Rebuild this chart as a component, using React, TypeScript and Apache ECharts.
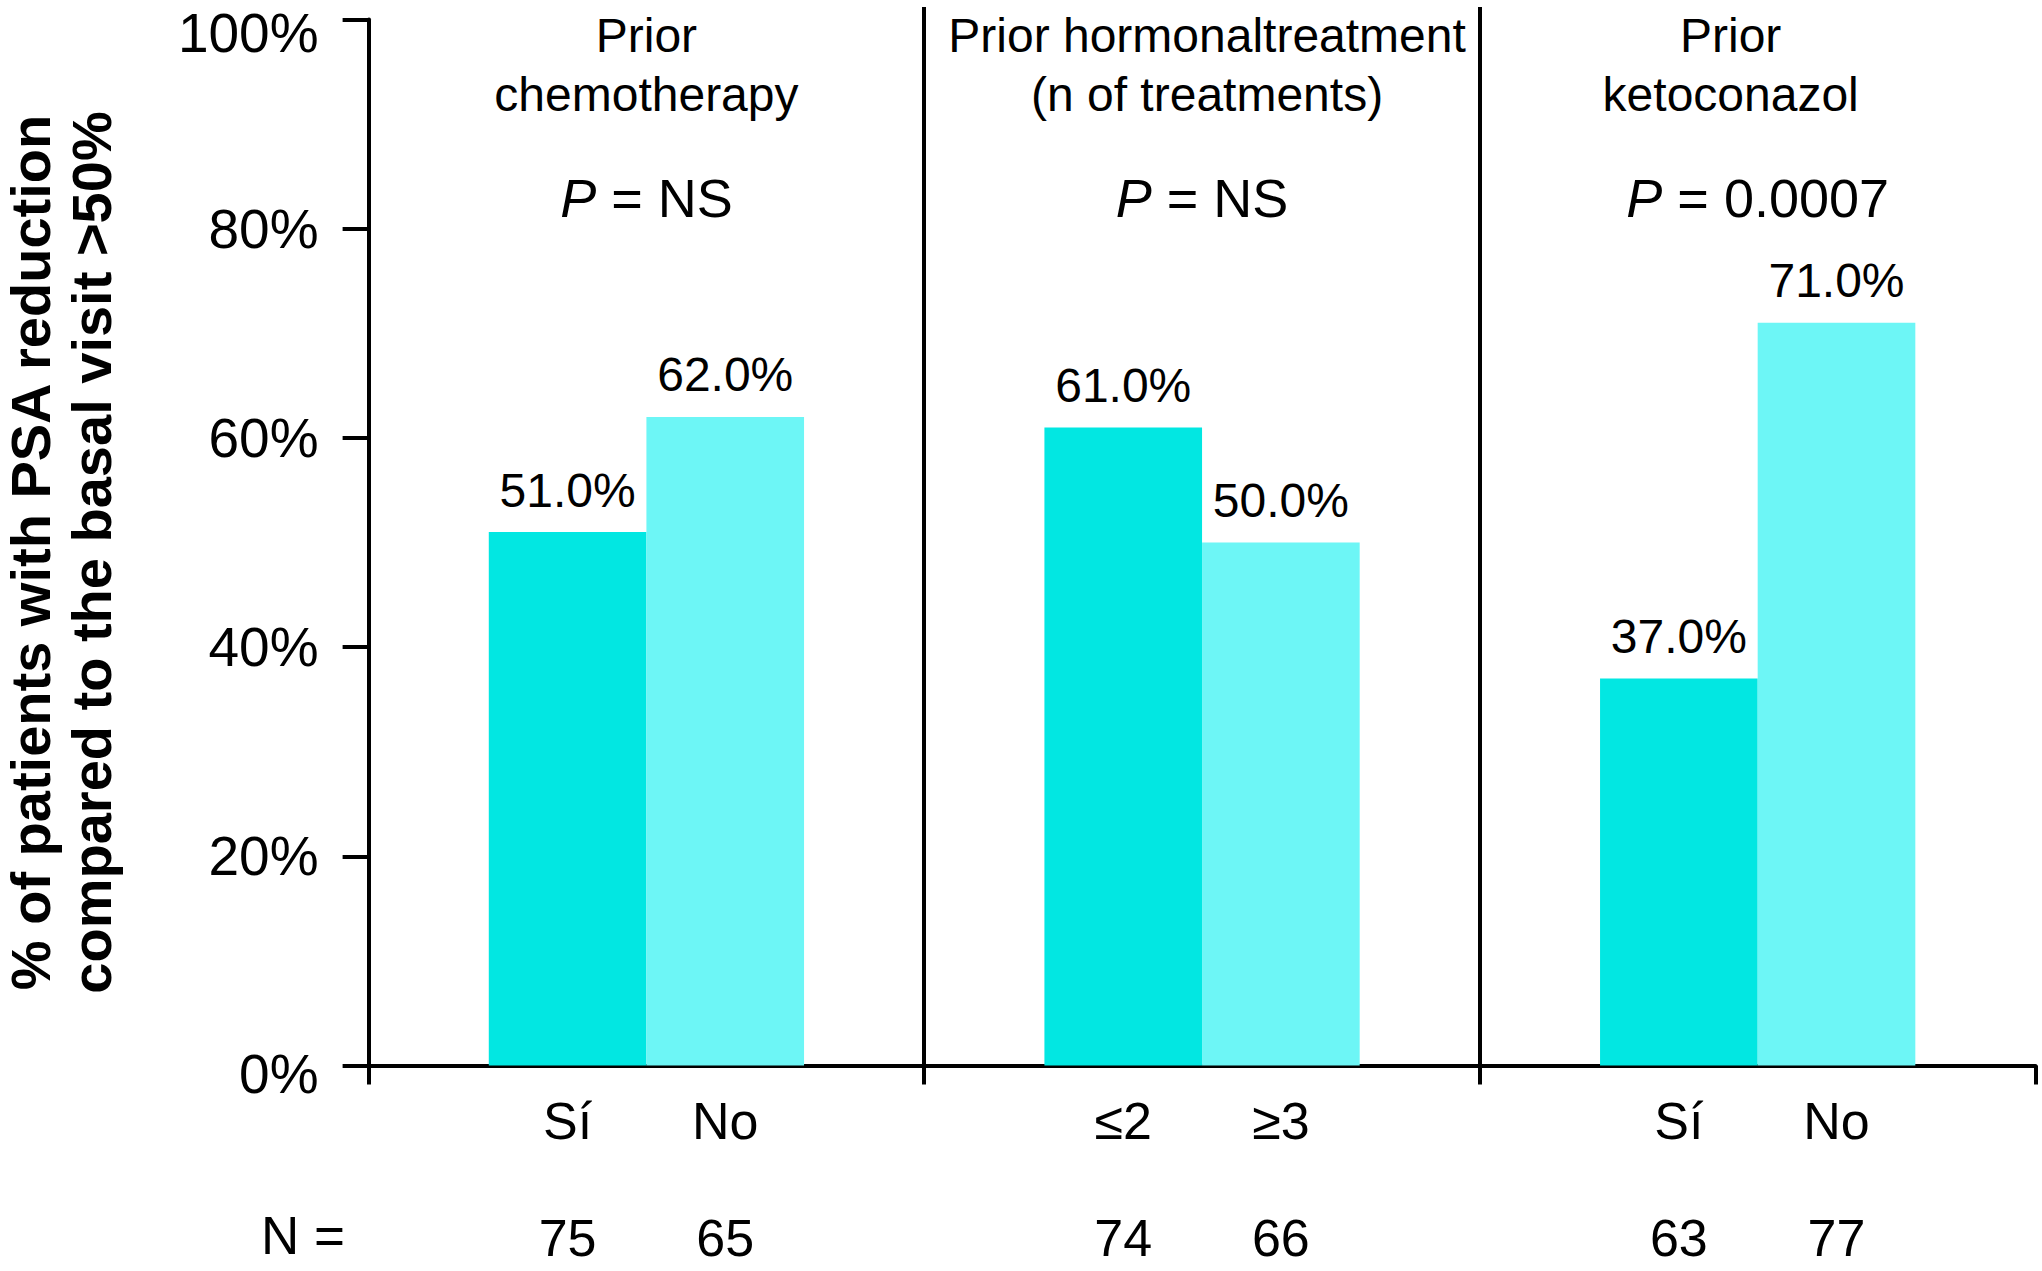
import React, { useEffect, useRef } from "react";
import * as echarts from "echarts";

const groups = ["chemotherapy", "hormonal", "ketoconazol"];
const titleLine1 = ["Prior", "Prior hormonaltreatment", "Prior"];
const titleLine2 = ["chemotherapy", "(n of treatments)", "ketoconazol"];
const pValues = ["NS", "NS", "0.0007"];
const firstLabels = ["Sí", "≤2", "Sí"];
const secondLabels = ["No", "≥3", "No"];
const firstValues = [51, 61, 37];
const secondValues = [62, 50, 71];
const firstN = [75, 74, 63];
const secondN = [65, 66, 77];
const zeroRow = [0, 0, 0];

const FONT = "'Liberation Sans', Arial, Helvetica, sans-serif";
const DARK = "#02E7E2";
const LIGHT = "#6DF6F6";

// horizontal padding (left, right) of the panel title lines, to reproduce their offsets
const titlePad = [
  [0, 0],
  [10, 0],
  [0, 54],
];

export default function App() {
  const ref = useRef<HTMLDivElement>(null);

  useEffect(() => {
    if (!ref.current) return;
    const chart = echarts.init(ref.current, undefined, { renderer: "svg" });

    const gridLeft = 368.6;
    const gridRight = 6.5;
    const gridBottom = 205.5;
    const axisTopMain = 19.5;
    const axisTopExt = 7;
    const plotBottomY = 1271 - gridBottom;
    const extMax = (100 * (plotBottomY - axisTopExt)) / (plotBottomY - axisTopMain);

    const barCommon = {
      type: "bar",
      barWidth: "28.37%",
      barGap: "0%",
      silent: true,
    };

    const subLabel = (names: string[], ns: number[]) => ({
      show: true,
      position: "bottom",
      distance: 25,
      formatter: (p: any) => `{a|${names[p.dataIndex]}}\n{b|${ns[p.dataIndex]}}`,
      rich: {
        a: { fontSize: 52, lineHeight: 60, fontFamily: FONT, color: "#000" },
        b: { fontSize: 52, lineHeight: 174, fontFamily: FONT, color: "#000" },
      },
    });

    const valueLabel = {
      show: true,
      position: "top",
      distance: 18,
      fontSize: 48,
      lineHeight: 48,
      fontFamily: FONT,
      color: "#000",
      formatter: (p: any) => `${Number(p.value).toFixed(1)}%`,
    };

    const titleRich: Record<string, any> = {
      p: { fontSize: 54, lineHeight: 149, fontFamily: FONT, fontStyle: "italic", color: "#000" },
      q: { fontSize: 54, lineHeight: 149, fontFamily: FONT, color: "#000" },
    };
    titlePad.forEach((pad, i) => {
      titleRich["t" + i] = {
        fontSize: 48,
        lineHeight: 59,
        fontFamily: FONT,
        color: "#000",
        padding: [0, pad[1], 0, pad[0]],
      };
    });

    chart.setOption({
      animation: false,
      backgroundColor: "#fff",
      grid: [
        {
          left: gridLeft,
          right: gridRight,
          top: axisTopExt,
          bottom: gridBottom,
          containLabel: false,
          outerBoundsMode: "none",
        },
        {
          left: gridLeft,
          right: gridRight,
          top: axisTopMain,
          bottom: gridBottom,
          containLabel: false,
          outerBoundsMode: "none",
        },
      ],
      xAxis: [
        {
          type: "category",
          gridIndex: 0,
          position: "bottom",
          data: groups,
          axisLine: { show: true, lineStyle: { color: "#000", width: 4 } },
          axisTick: { show: true, length: 19, lineStyle: { color: "#000", width: 4 } },
          axisLabel: { show: false },
          splitLine: {
            show: true,
            showMinLine: false,
            showMaxLine: false,
            lineStyle: { color: "#000", width: 4 },
          },
        },
        {
          type: "category",
          gridIndex: 0,
          data: groups,
          show: false,
        },
        {
          type: "category",
          gridIndex: 0,
          position: "top",
          data: groups,
          axisLine: { show: false },
          axisTick: { show: false },
          splitLine: { show: false },
          axisLabel: {
            show: true,
            interval: 0,
            margin: 1.5,
            verticalAlign: "top",
            align: "center",
            formatter: (_v: string, i: number) =>
              `{t${i}|${titleLine1[i]}}\n{t${i}|${titleLine2[i]}}\n{p|P}{q| = ${pValues[i]}}`,
            rich: titleRich,
          },
        },
        {
          type: "category",
          gridIndex: 1,
          data: groups,
          show: false,
        },
      ],
      yAxis: [
        {
          type: "value",
          gridIndex: 0,
          min: 0,
          max: extMax,
          show: false,
          splitLine: { show: false },
        },
        {
          type: "value",
          gridIndex: 1,
          min: 0,
          max: 100,
          interval: 20,
          axisLine: { show: true, onZero: false, lineStyle: { color: "#000", width: 4 } },
          axisTick: { show: true, length: 26, lineStyle: { color: "#000", width: 4 } },
          splitLine: { show: false },
          axisLabel: {
            margin: 50,
            fontSize: 55,
            fontFamily: FONT,
            color: "#000",
            formatter: (v: number) =>
              v === 100 ? `{top|${v}%}` : v === 0 ? `{bot|${v}%}` : `${v}%`,
            rich: {
              top: { fontSize: 55, fontFamily: FONT, color: "#000", padding: [26, 0, 0, 0] },
              bot: { fontSize: 55, fontFamily: FONT, color: "#000", padding: [17, 0, 0, 0] },
            },
          },
          name: "% of patients with PSA reduction\ncompared to the basal visit >50%",
          nameLocation: "middle",
          nameRotate: 90,
          nameGap: 247,
          nameTextStyle: {
            fontSize: 56,
            lineHeight: 61,
            fontWeight: "bold",
            fontFamily: FONT,
            color: "#000",
            padding: [0, 20, 0, 0],
          },
        },
      ],
      series: [
        {
          ...barCommon,
          name: "first",
          xAxisIndex: 0,
          yAxisIndex: 0,
          data: firstValues,
          itemStyle: { color: DARK },
          label: valueLabel,
        },
        {
          ...barCommon,
          name: "second",
          xAxisIndex: 0,
          yAxisIndex: 0,
          data: secondValues,
          itemStyle: { color: LIGHT },
          label: valueLabel,
        },
        {
          ...barCommon,
          name: "firstSub",
          xAxisIndex: 1,
          yAxisIndex: 0,
          data: zeroRow,
          itemStyle: { color: "rgba(0,0,0,0)" },
          label: subLabel(firstLabels, firstN),
        },
        {
          ...barCommon,
          name: "secondSub",
          xAxisIndex: 1,
          yAxisIndex: 0,
          data: zeroRow,
          itemStyle: { color: "rgba(0,0,0,0)" },
          label: subLabel(secondLabels, secondN),
        },
      ],
      graphic: [
        {
          type: "text",
          left: 261,
          top: 1209,
          style: {
            text: "N =",
            fontSize: 53,
            fontFamily: FONT,
            fill: "#000",
          },
        },
      ],
    });

    return () => chart.dispose();
  }, []);

  return (
    <div
      ref={ref}
      style={{ position: "fixed", left: 0, top: 0, width: 2042, height: 1271, background: "#fff" }}
    />
  );
}
